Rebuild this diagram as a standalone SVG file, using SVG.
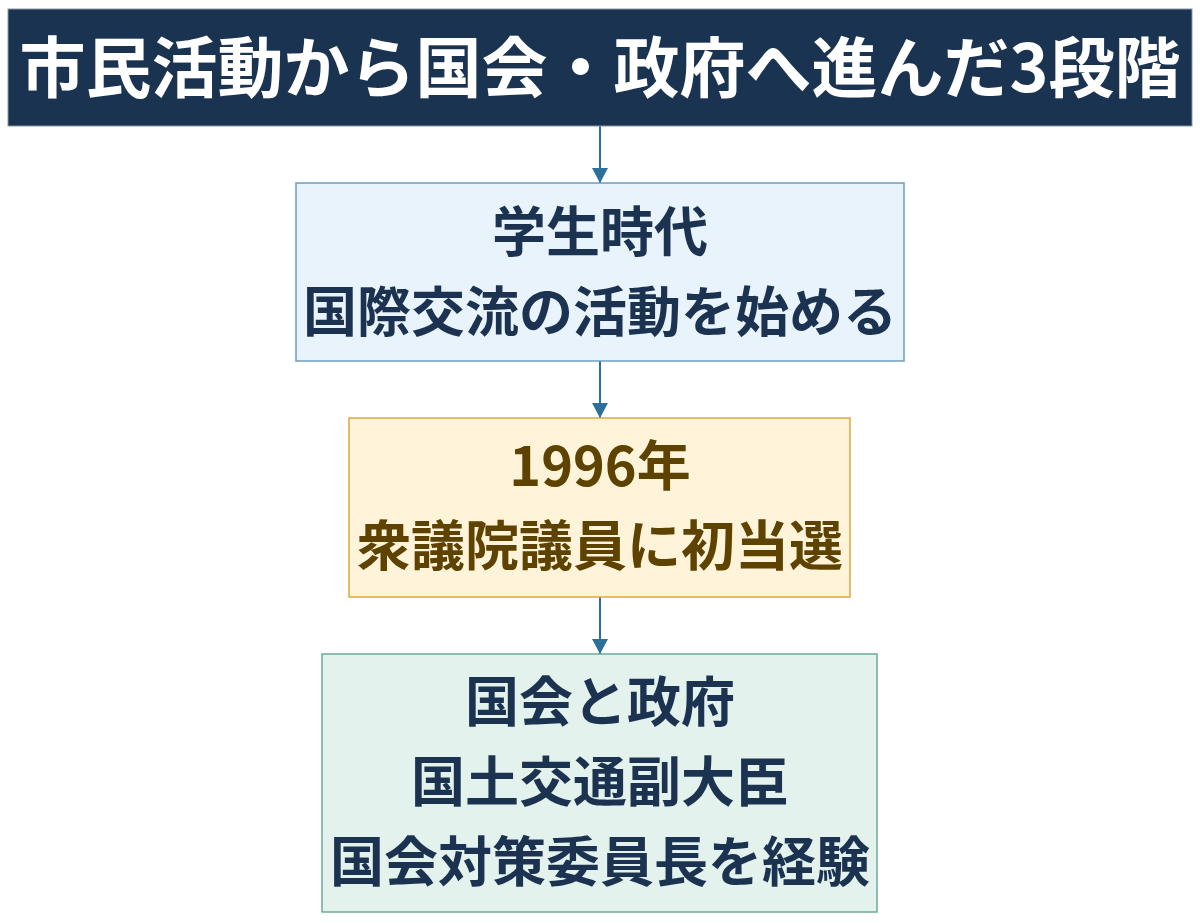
<svg xmlns="http://www.w3.org/2000/svg" width="1200" height="923" viewBox="0 0 1200 923">
<defs>
<style>
text{font-family:"Noto Sans CJK JP","Noto Sans",sans-serif;font-weight:700;text-anchor:middle}
.title{font-size:66px;fill:#ffffff}
.t{font-size:54px}
.blue{fill:#1b3350}
.brown{fill:#5e4300}
.conn{stroke:#2b6f9b;stroke-width:2;fill:none}
</style>
<marker id="ah" markerUnits="userSpaceOnUse" markerWidth="16" markerHeight="16" refX="15" refY="8" orient="auto">
<path d="M0,0 L15,8 L0,16 Z" fill="#2b6f9b"/>
</marker>
</defs>
<rect width="1200" height="923" fill="#ffffff"/>
<g id="connectors">
<line class="conn" x1="600" y1="126" x2="600" y2="183" marker-end="url(#ah)"/>
<line class="conn" x1="600" y1="361" x2="600" y2="418" marker-end="url(#ah)"/>
<line class="conn" x1="600" y1="597" x2="600" y2="654" marker-end="url(#ah)"/>
</g>
<g id="title">
<rect x="8" y="9" width="1184" height="117" fill="#1a3350" stroke="#8a97a6" stroke-width="1"/>
<text class="title" x="600" y="92">市民活動から国会・政府へ進んだ3段階</text>
</g>
<g id="node1">
<rect x="296" y="183" width="608" height="178" fill="#e8f3fc" stroke="#6d9cc0" stroke-width="1.5"/>
<text class="t blue" x="600" y="252">学生時代</text>
<text class="t blue" x="600" y="332">国際交流の活動を始める</text>
</g>
<g id="node2">
<rect x="349" y="418" width="501" height="179" fill="#fff3d9" stroke="#e0a63a" stroke-width="1.5"/>
<text class="t brown" x="600" y="486">1996年</text>
<text class="t brown" x="600" y="566">衆議院議員に初当選</text>
</g>
<g id="node3">
<rect x="322" y="654" width="555" height="258" fill="#e3f2ec" stroke="#6eab98" stroke-width="1.5"/>
<text class="t blue" x="600" y="722">国会と政府</text>
<text class="t blue" x="600" y="802">国土交通副大臣</text>
<text class="t blue" x="600" y="882">国会対策委員長を経験</text>
</g>
</svg>
